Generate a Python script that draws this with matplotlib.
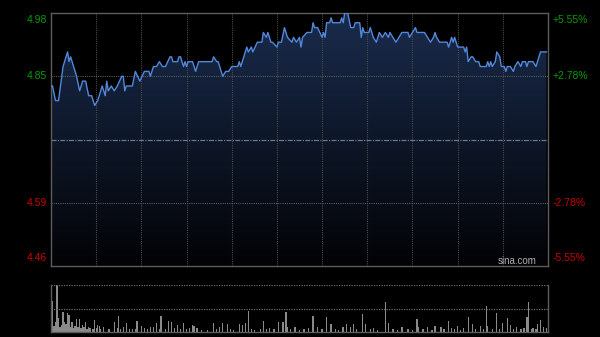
import numpy as np
import matplotlib
matplotlib.use("Agg")
import matplotlib.pyplot as plt

prev_close = 4.72

# minute index (0..330 over the HK session) and last price
price_min = [0, 1, 3, 5, 8, 11, 12, 13, 17, 19, 21, 23, 25, 27, 29, 31, 34, 36, 37, 38,
             40, 42, 44, 47, 48, 49, 50, 54, 56, 59, 62, 65, 66, 68, 70, 72, 74, 76, 79, 80,
             81, 84, 85, 86, 88, 89, 90, 91, 94, 96, 98, 107, 108, 110, 111, 114, 116, 118, 120, 124,
             125, 126, 129, 130, 131, 133, 134, 137, 140, 141, 143, 144, 146, 147, 150, 151, 153, 155, 157, 160,
             161, 163, 165, 166, 167, 170, 173, 174, 175, 177, 180, 181, 182, 183, 185, 186, 187, 192, 193, 194,
             195, 197, 199, 201, 202, 205, 206, 207, 208, 211, 212, 214, 216, 218, 220, 222, 224, 225, 227, 229,
             231, 233, 237, 238, 240, 242, 243, 248, 250, 252, 254, 255, 256, 258, 263, 264, 266, 267, 268, 270,
             274, 275, 276, 277, 279, 280, 282, 284, 285, 289, 290, 291, 292, 293, 295, 296, 298, 299, 301, 302,
             303, 305, 307, 308, 310, 312, 313, 315, 316, 317, 320, 322, 325, 329]
price_val = [4.83, 4.83, 4.80, 4.80, 4.87, 4.90, 4.88, 4.89, 4.85, 4.82, 4.84, 4.84, 4.81, 4.81, 4.79, 4.80, 4.83, 4.81, 4.84, 4.82,
             4.83, 4.82, 4.83, 4.85, 4.85, 4.82, 4.83, 4.83, 4.86, 4.84, 4.86, 4.86, 4.85, 4.87, 4.87, 4.88, 4.87, 4.87, 4.89, 4.89,
             4.88, 4.88, 4.89, 4.89, 4.87, 4.88, 4.87, 4.88, 4.88, 4.86, 4.88, 4.88, 4.89, 4.88, 4.88, 4.85, 4.86, 4.86, 4.87, 4.87,
             4.88, 4.87, 4.90, 4.91, 4.90, 4.91, 4.90, 4.92, 4.92, 4.94, 4.93, 4.94, 4.92, 4.92, 4.91, 4.92, 4.92, 4.95, 4.93, 4.92,
             4.93, 4.92, 4.93, 4.91, 4.93, 4.94, 4.94, 4.96, 4.95, 4.95, 4.93, 4.94, 4.93, 4.96, 4.96, 4.97, 4.96, 4.96, 4.97, 4.96,
             4.98, 4.98, 4.95, 4.95, 4.96, 4.96, 4.93, 4.95, 4.94, 4.94, 4.95, 4.93, 4.92, 4.94, 4.93, 4.94, 4.93, 4.94, 4.93, 4.92,
             4.93, 4.94, 4.94, 4.93, 4.94, 4.95, 4.94, 4.94, 4.93, 4.92, 4.93, 4.94, 4.93, 4.92, 4.92, 4.91, 4.93, 4.92, 4.93, 4.91,
             4.91, 4.90, 4.91, 4.88, 4.89, 4.89, 4.88, 4.88, 4.87, 4.87, 4.88, 4.87, 4.88, 4.87, 4.88, 4.90, 4.89, 4.87, 4.87, 4.86,
             4.87, 4.87, 4.86, 4.87, 4.88, 4.87, 4.88, 4.88, 4.87, 4.88, 4.88, 4.87, 4.90, 4.90]

vol_min = [0, 1, 2, 3, 4, 5, 6, 7, 8, 9, 10, 11, 12, 13, 14, 15, 16, 17, 18, 19,
           20, 21, 22, 23, 24, 25, 26, 28, 29, 30, 31, 32, 33, 35, 38, 39, 42, 44, 45, 46,
           48, 50, 52, 54, 56, 57, 60, 62, 64, 66, 68, 70, 72, 73, 76, 78, 80, 82, 84, 86,
           88, 90, 92, 94, 95, 97, 100, 104, 108, 110, 112, 114, 117, 119, 121, 125, 127, 129, 131, 133,
           135, 139, 141, 143, 145, 148, 151, 154, 156, 157, 159, 162, 165, 168, 171, 174, 177, 180, 183, 186,
           189, 191, 194, 196, 199, 201, 203, 207, 209, 212, 214, 217, 222, 224, 227, 230, 233, 237, 240, 243,
           244, 247, 250, 253, 255, 259, 261, 264, 266, 268, 270, 272, 274, 277, 280, 282, 285, 287, 289, 290,
           293, 296, 298, 300, 303, 305, 307, 309, 312, 314, 316, 317, 319, 320, 322, 323, 325, 327, 329]
vol_val = [45, 31, 6, 10, 47, 14, 5, 7, 20, 10, 8, 19, 17, 5, 10, 4, 6, 13, 5, 13,
           4, 7, 5, 10, 3, 5, 4, 3, 12, 4, 7, 6, 3, 5, 3, 3, 10, 4, 16, 3,
           5, 9, 3, 3, 3, 11, 6, 4, 3, 5, 5, 9, 3, 16, 3, 11, 10, 4, 7, 3,
           9, 3, 4, 7, 6, 4, 2, 2, 9, 3, 5, 9, 8, 3, 2, 8, 7, 9, 21, 3,
           2, 3, 11, 3, 4, 3, 10, 10, 20, 5, 3, 5, 2, 3, 4, 16, 5, 3, 15, 8,
           3, 2, 5, 8, 5, 8, 3, 18, 8, 3, 4, 2, 30, 9, 3, 2, 5, 3, 2, 13,
           5, 3, 5, 2, 6, 5, 3, 11, 4, 3, 6, 2, 4, 15, 8, 3, 6, 3, 26, 6,
           3, 19, 3, 9, 14, 7, 3, 5, 3, 4, 15, 30, 3, 4, 3, 8, 12, 5, 4]

left_labels = ["4.98", "4.85", "4.59", "4.46"]
right_labels = ["+5.55%", "+2.78%", "-2.78%", "-5.55%"]
label_prices = [4.98, 4.85, 4.59, 4.46]

plt.rcParams['font.family'] = ['Liberation Sans', 'DejaVu Sans']

fig = plt.figure(figsize=(6, 3.37), dpi=100, facecolor='black')
ax = fig.add_axes([51/600, 71/337, 497/600, 253/337], facecolor='black')
axv = fig.add_axes([51/600, 5/337, 497/600, 47/337], facecolor='black')

ymin, ymax = 4.46, 4.98
ax.set_xlim(0, 330)
ax.set_ylim(ymin, ymax)

# gradient fill under the price line
grad = np.linspace(0, 1, 256).reshape(-1, 1)
top_c = np.array([0.10, 0.17, 0.30])
bot_c = np.array([0.01, 0.01, 0.02])
img = bot_c + (top_c - bot_c) * grad
img = img.reshape(256, 1, 3)
im = ax.imshow(img, extent=[0, 330, ymin, ymax], origin='lower', aspect='auto', zorder=1)
poly = ax.fill_between(price_min, price_val, ymin, color='none', lw=0)
im.set_clip_path(poly.get_paths()[0], transform=ax.transData)

ax.plot(price_min, price_val, color='#5288dc', lw=1.0, zorder=4)

# grid
for m in range(30, 330, 30):
    ax.axvline(m, color='#4a4a4a', lw=0.8, ls=(0, (1, 1)), zorder=2)
for p in [4.85, 4.59]:
    ax.axhline(p, color='#5a5a5a', lw=0.8, ls=(0, (1, 1)), zorder=2)
ax.axhline(prev_close, color='#66788e', lw=0.9, ls=(0, (4, 1, 1, 1)), zorder=2)

ax.set_xticks([])
ax.set_yticks([])
for s in ax.spines.values():
    s.set_color('#5c5c5c')
    s.set_linewidth(1)

colors = ['#0a9a0a', '#0a9a0a', '#c80000', '#c80000']
offs = [-5, 0, 0, 6]
for lab, rl, p, c, o in zip(left_labels, right_labels, label_prices, colors, offs):
    ax.annotate(lab, xy=(0, p), xycoords=('axes fraction', 'data'), xytext=(-3, o),
                textcoords='offset points', ha='right', va='center', color=c, fontsize=7.5)
    ax.annotate(rl, xy=(1, p), xycoords=('axes fraction', 'data'), xytext=(3, o),
                textcoords='offset points', ha='left', va='center', color=c, fontsize=7.5)

ax.text(0.9376, 0.02, "sina.com", transform=ax.transAxes, ha='center', va='center',
        color='#b0b0b0', fontsize=7, zorder=5)

# volume panel
axv.set_xlim(0, 330)
axv.set_ylim(0, 47)
axv.bar(vol_min, vol_val, width=0.9, color='#8a8a8a', lw=0)
axv.axhline(47, color='#6a6a6a', lw=0.9, ls=(0, (1, 1)))
axv.axhline(23.5, color='#6a6a6a', lw=0.9, ls=(0, (1, 1)))
axv.set_xticks([])
axv.set_yticks([])
axv.spines['top'].set_visible(False)
for k in ['left', 'right', 'bottom']:
    axv.spines[k].set_color('#5c5c5c')
    axv.spines[k].set_linewidth(1)

fig.savefig("out.png", dpi=100, facecolor='black')
